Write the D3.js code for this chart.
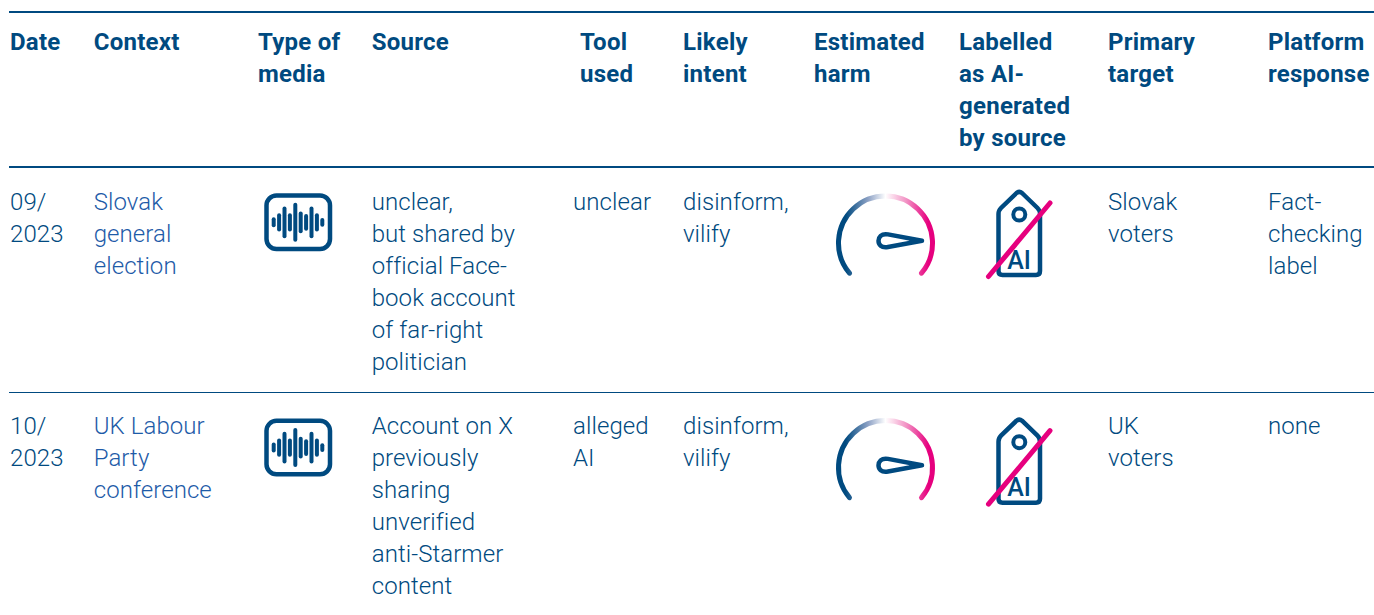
<!DOCTYPE html>
<html>
<head>
<meta charset="utf-8">
<script src="https://d3js.org/d3.v7.min.js"></script>
<style>
  html,body{margin:0;padding:0;background:#fff;}
  svg{display:block;}
  text{font-family:Roboto,sans-serif;}
  .head{font-size:24px;font-weight:700;fill:#004a80;letter-spacing:.25px;}
  .cell{font-size:24px;font-weight:300;fill:#004a80;letter-spacing:.08px;}
  .cell.context{fill:#1e5ba8;}
</style>
</head>
<body>
<div id="chart"></div>
<script>
var columns = ['date','context','media','source','tool','intent','harm','labelled','target','response'];

var headers = [
  ['Date'],
  ['Context'],
  ['Type of','media'],
  ['Source'],
  ['Tool','used'],
  ['Likely','intent'],
  ['Estimated','harm'],
  ['Labelled','as AI-','generated','by source'],
  ['Primary','target'],
  ['Platform','response']
];

var dates = [['09/','2023'],['10/','2023']];
var contexts = [['Slovak','general','election'],['UK Labour','Party','conference']];
var sources = [
  ['unclear,','but shared by','official Face-','book account','of far-right','politician'],
  ['Account on X','previously','sharing','unverified','anti-Starmer','content']
];
var tools = [['unclear'],['alleged','AI']];
var intents = [['disinform,','vilify'],['disinform,','vilify']];
var targets = [['Slovak','voters'],['UK','voters']];
var responses = [['Fact-','checking','label'],['none']];
var rows = ['slovak','labour'];

var audioBars = [30,55,95,55,117,65,50,95,55,26];

var width = 1374, height = 615, lineH = 32;
var blue = '#004a80', pink = '#e6007e';

var headX = d3.scaleOrdinal().domain(columns).range([10,93.7,258,371.7,580,683,814,959,1108,1268]);
var cellX = d3.scaleOrdinal().domain(columns).range([10,93.7,258,371.7,573,683,814,959,1108,1268]);
var rowY = d3.scaleOrdinal().domain(rows).range([210,434]);
//each icon sits a little differently in the second row
var audioY = d3.scaleOrdinal().domain(rows).range([0,225.3]);
var gaugeY = d3.scaleOrdinal().domain(rows).range([0,224.5]);
var tagY = d3.scaleOrdinal().domain(rows).range([0,227.7]);

var svg = d3.select('#chart').append('svg').attr('width',width).attr('height',height);

//Gauge gradient
var grad = svg.append('defs').append('linearGradient')
    .attr('id','gauge').attr('gradientUnits','userSpaceOnUse')
    .attr('x1',838).attr('x2',933).attr('y1',0).attr('y2',0);
grad.append('stop').attr('offset',0.08).attr('stop-color',blue);
grad.append('stop').attr('offset',0.32).attr('stop-color','#8fa3c6');
grad.append('stop').attr('offset',0.5).attr('stop-color','#fff');
grad.append('stop').attr('offset',0.72).attr('stop-color','#f292c4');
grad.append('stop').attr('offset',0.95).attr('stop-color',pink);

//Rules
var rules = [[12,2],[167,2],[392.5,1]];
svg.selectAll('.rule').data(rules).enter().append('line').attr('class','rule')
    .attr('x1',9).attr('x2',width)
    .attr('y1',function(d){return d[0];}).attr('y2',function(d){return d[0];})
    .style('stroke',blue).style('stroke-width',function(d){return d[1];});

function multiline(g, cls, x, y, lines){
  g.append('text').attr('class',cls).attr('x',x).attr('y',y)
    .selectAll('tspan').data(lines).enter().append('tspan')
    .attr('x',x)
    .attr('y',function(d,i){return y + i*lineH;})
    .text(function(d){return d;});
}

//Header
columns.forEach(function(c,i){
  multiline(svg,'head',headX(c),50,headers[i]);
});

//Body text
var textCols = {date:dates,context:contexts,source:sources,tool:tools,intent:intents,target:targets,response:responses};
rows.forEach(function(r,ri){
  Object.keys(textCols).forEach(function(c){
    multiline(svg,'cell '+c,cellX(c),rowY(r),textCols[c][ri]);
  });
});

//Icons
function audioIcon(g){
  g.append('rect').attr('x',266.5).attr('y',195.5).attr('width',63.5).attr('height',53.5).attr('rx',10)
    .style('fill','none').style('stroke',blue).style('stroke-width',4.5);
  var barX = d3.scaleBand().domain(d3.range(audioBars.length)).range([271,325]);
  g.selectAll('.bar').data(audioBars).enter().append('rect').attr('class','bar')
    .attr('x',function(d,i){return barX(i)+barX.bandwidth()/2-2;})
    .attr('y',function(d){return 222.3-d/6;})
    .attr('width',4).attr('rx',2)
    .attr('height',function(d){return d/3;})
    .style('fill',blue);
}

function gaugeIcon(g){
  var p = d3.path();
  p.arc(885.5,243,47,140*Math.PI/180,400*Math.PI/180);
  g.append('path').attr('d',p.toString())
    .style('fill','none').style('stroke','url(#gauge)').style('stroke-width',5).style('stroke-linecap','round');
  g.append('path')
    .attr('d','M922 240.8 L888 234.4 C881 233.2 878.5 237.5 878.5 240.8 C878.5 244.5 881 248.2 888 247 Z')
    .style('fill','#fff').style('stroke',blue).style('stroke-width',4.5).style('stroke-linejoin','round');
}

function tagIcon(g){
  g.append('path')
    .attr('d','M1016.5 193 Q1019.3 190.8 1022 193 L1037.5 208 Q1040 210.5 1040 214 L1040 271 Q1040 275 1036 275 L1002.5 275 Q998.5 275 998.5 271 L998.5 214 Q998.5 210.5 1001 208 Z')
    .style('fill','none').style('stroke',blue).style('stroke-width',4.5).style('stroke-linejoin','round');
  g.append('circle').attr('cx',1019.3).attr('cy',214.5).attr('r',6)
    .style('fill','none').style('stroke',blue).style('stroke-width',4);
  g.append('text').attr('x',1019).attr('y',268.5).attr('text-anchor','middle')
    .style('font-size','25px').style('font-weight',500).style('fill',blue).text('AI');
  g.append('line').attr('x1',988.5).attr('y1',276.5).attr('x2',1050).attr('y2',203)
    .style('stroke',pink).style('stroke-width',5).style('stroke-linecap','round');
}

rows.forEach(function(r){
  audioIcon(svg.append('g').attr('transform','translate(0,'+audioY(r)+')'));
  gaugeIcon(svg.append('g').attr('transform','translate(0,'+gaugeY(r)+')'));
  tagIcon(svg.append('g').attr('transform','translate(0,'+tagY(r)+')'));
});
</script>
</body>
</html>
